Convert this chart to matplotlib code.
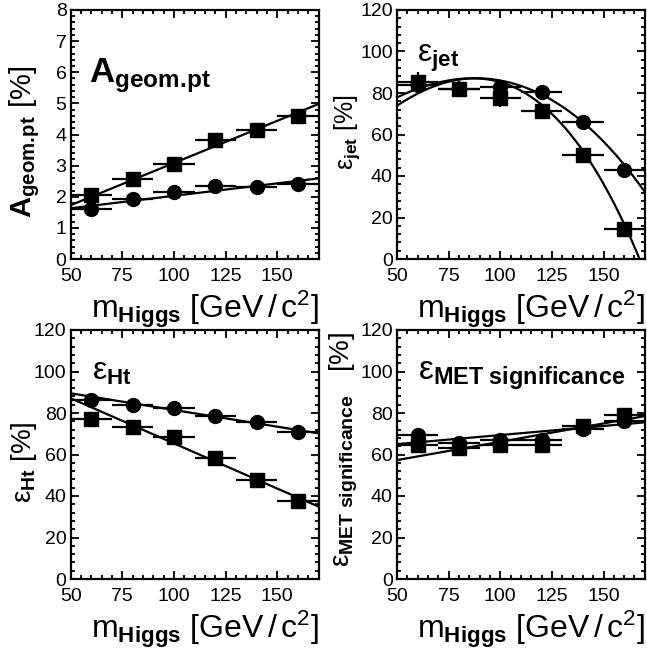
import numpy as np
import matplotlib
matplotlib.use("Agg")
import matplotlib.pyplot as plt
from matplotlib.ticker import MultipleLocator

plt.rcParams['font.family'] = ['Liberation Sans', 'DejaVu Sans']
plt.rcParams['mathtext.fontset'] = 'custom'
plt.rcParams['mathtext.rm'] = 'Liberation Sans'
plt.rcParams['mathtext.bf'] = 'Liberation Sans:bold'
plt.rcParams['mathtext.it'] = 'Liberation Sans:italic'
plt.rcParams['mathtext.sf'] = 'Liberation Sans'

# ---------------- data ----------------
m_higgs = [60, 80, 100, 120, 140, 160]
m_halfbin = [10, 10, 10, 10, 10, 10]

geom_sq = [2.06, 2.57, 3.05, 3.82, 4.14, 4.59]
geom_sq_err = [0.12, 0.1, 0.1, 0.12, 0.12, 0.12]
geom_ci = [1.60, 1.93, 2.14, 2.36, 2.30, 2.40]
geom_ci_err = [0.12, 0.08, 0.08, 0.08, 0.08, 0.08]

jet_sq = [85.1, 81.8, 77.4, 71.3, 50.0, 14.6]
jet_sq_err = [5, 3, 4, 3, 3, 3]
jet_ci = [84.0, 82.0, 82.8, 80.5, 66.0, 43.0]
jet_ci_err = [4, 4, 3, 3, 3, 3]

ht_ci = [86.3, 83.9, 82.2, 78.6, 75.5, 71.0]
ht_ci_err = [3, 3, 3, 3, 3, 3]
ht_sq = [77.1, 73.1, 68.3, 58.2, 47.5, 37.6]
ht_sq_err = [3, 2, 2, 2, 2, 2]

met_sq = [64.6, 63.0, 64.6, 64.6, 73.5, 79.0]
met_sq_err = [3, 3, 3, 3, 2, 3]
met_ci = [69.5, 65.5, 67.0, 67.0, 72.5, 76.0]
met_ci_err = [3, 3, 3, 3, 3, 3]

# fit curves
fit_edges = [50, 170]
geom_sq_fit = [1.73, 4.98]
geom_ci_fit = [1.63, 2.59]
ht_ci_fit = [89.5, 70.2]
ht_sq_fit = [87.1, 34.9]
met_sq_fit = [57.3, 78.5]
met_ci_fit = [65.0, 75.5]
jet_sq_fit_x = [50, 85, 120, 140, 160, 168]
jet_sq_fit_y = [74.0, 86.5, 75.0, 52.5, 15.0, 0.0]
jet_ci_fit_x = [50, 85, 120, 140, 160, 171]
jet_ci_fit_y = [78.0, 86.5, 80.0, 66.5, 43.5, 32.0]

x_ticks = [50, 75, 100, 125, 150]

# ---------------- figure ----------------
fig = plt.figure(figsize=(6.47, 6.50), dpi=100)
W, H = 647.0, 650.0

def mkax(l, r, t, b):
    return fig.add_axes([l / W, 1 - b / H, (r - l) / W, (b - t) / H])

ax1 = mkax(70.7, 318.5, 10, 259)
ax2 = mkax(397.0, 644.8, 10, 259)
ax3 = mkax(70.7, 318.5, 330, 579)
ax4 = mkax(397.0, 644.8, 330, 579)

xlabel = r'm$_{\mathbf{Higgs}}$ [GeV$\,/\,$c$^{2}$]'
geom_sub = r'\mathbf{geom.\!pt}'

def style(ax, ymax, ymaj, ymin):
    ax.set_xlim(50, 170)
    ax.set_ylim(0, ymax)
    ax.set_xticks(x_ticks)
    ax.xaxis.set_minor_locator(MultipleLocator(5))
    ax.yaxis.set_major_locator(MultipleLocator(ymaj))
    ax.yaxis.set_minor_locator(MultipleLocator(ymin))
    ax.tick_params(which='both', direction='in', top=True, right=True,
                   width=1.3, labelsize=14, colors='black')
    ax.tick_params(which='major', length=6)
    ax.tick_params(which='minor', length=3)
    ax.tick_params(axis='x', which='major', pad=6.5)
    ax.tick_params(axis='y', which='major', pad=3)
    for s in ax.spines.values():
        s.set_linewidth(1.6)
    ax.set_xlabel(xlabel, fontsize=23, ha='right', va='baseline')
    ax.xaxis.set_label_coords(1.0, -0.237)

def draw(ax, ysq, esq, yci, eci):
    kw = dict(fmt='none', ecolor='black', elinewidth=1.6, capsize=0)
    ax.errorbar(m_higgs, ysq, xerr=m_halfbin, yerr=esq, **kw)
    ax.errorbar(m_higgs, yci, xerr=m_halfbin, yerr=eci, **kw)
    ax.plot(m_higgs, ysq, 's', color='black', ms=10.5, zorder=4)
    ax.plot(m_higgs, yci, 'o', color='black', ms=10, zorder=4)

# Panel 1
style(ax1, 8, 1, 0.2)
draw(ax1, geom_sq, geom_sq_err, geom_ci, geom_ci_err)
ax1.plot(fit_edges, geom_sq_fit, color='black', lw=1.6)
ax1.plot(fit_edges, geom_ci_fit, color='black', lw=1.6)
ax1.set_ylabel(r'$\mathbf{A}_{' + geom_sub + r'}$ [%]', fontsize=21, ha='center', va='center')
ax1.yaxis.set_label_coords(-0.185, 0.47)
ax1.text(0.075, 0.71, r'$\mathbf{A}_{' + geom_sub + r'}$', transform=ax1.transAxes,
         fontsize=25, ha='left', va='baseline')

# Panel 2
style(ax2, 120, 20, 4)
draw(ax2, jet_sq, jet_sq_err, jet_ci, jet_ci_err)
xx = np.linspace(50, 170, 300)
ax2.plot(xx, np.polyval(np.polyfit(jet_sq_fit_x, jet_sq_fit_y, 3), xx), color='black', lw=1.6)
ax2.plot(xx, np.polyval(np.polyfit(jet_ci_fit_x, jet_ci_fit_y, 3), xx), color='black', lw=1.6)
ax2.set_ylabel(r'ε$_{\mathbf{jet}}$ [%]', fontsize=18, ha='center', va='center')
ax2.yaxis.set_label_coords(-0.2, 0.51)
ax2.text(0.08, 0.79, r'ε$_{\mathbf{jet}}$', transform=ax2.transAxes,
         fontsize=23, ha='left', va='baseline')

# Panel 3
style(ax3, 120, 20, 4)
draw(ax3, ht_sq, ht_sq_err, ht_ci, ht_ci_err)
ax3.plot(fit_edges, ht_ci_fit, color='black', lw=1.6)
ax3.plot(fit_edges, ht_sq_fit, color='black', lw=1.6)
ax3.set_ylabel(r'ε$_{\mathbf{Ht}}$ [%]', fontsize=20, ha='center', va='center')
ax3.yaxis.set_label_coords(-0.19, 0.47)
ax3.text(0.086, 0.80, r'ε$_{\mathbf{Ht}}$', transform=ax3.transAxes,
         fontsize=23, ha='left', va='baseline')

# Panel 4
style(ax4, 120, 20, 4)
draw(ax4, met_sq, met_sq_err, met_ci, met_ci_err)
ax4.plot(fit_edges, met_sq_fit, color='black', lw=1.6)
ax4.plot(fit_edges, met_ci_fit, color='black', lw=1.6)
ax4.set_ylabel(r'ε$_{\mathbf{MET\ significance}}$   [%]', fontsize=20, ha='center', va='center')
ax4.yaxis.set_label_coords(-0.215, 0.52)
ax4.text(0.085, 0.80, r'ε$_{\mathbf{MET\ significance}}$', transform=ax4.transAxes,
         fontsize=24, ha='left', va='baseline')

fig.savefig('out.png', dpi=100)
